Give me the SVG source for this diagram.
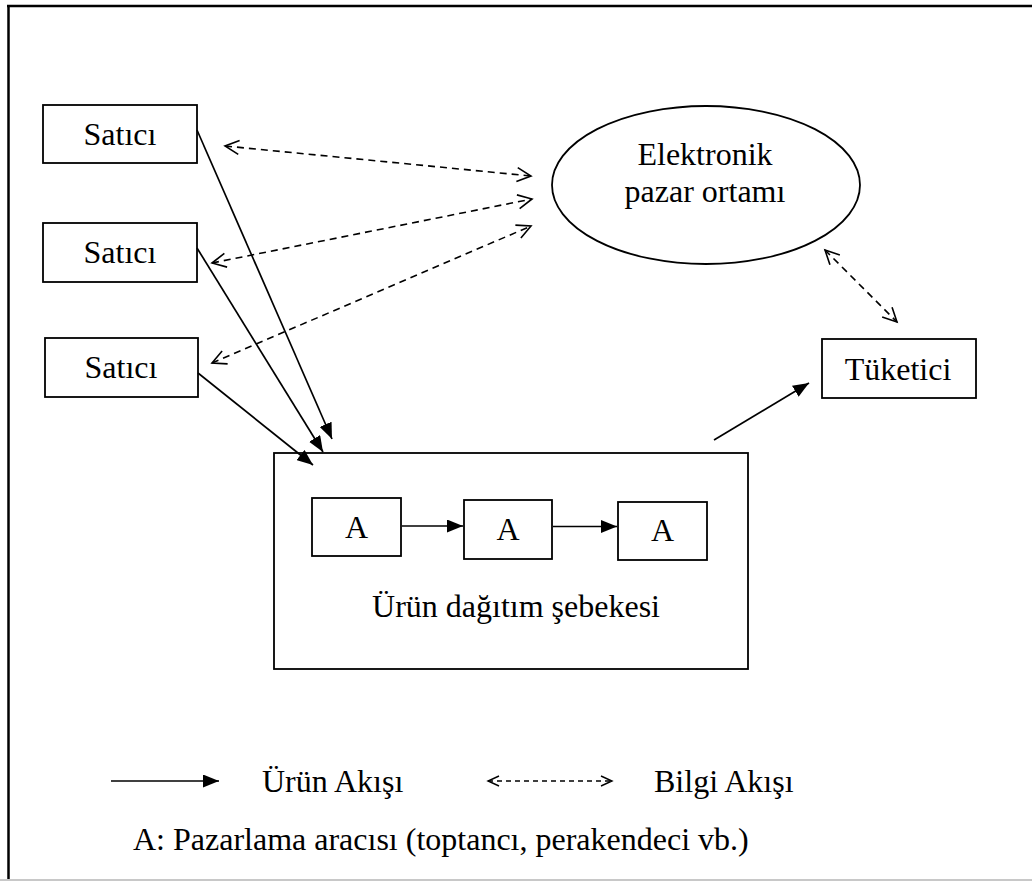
<svg xmlns="http://www.w3.org/2000/svg" width="1032" height="881" viewBox="0 0 1032 881">
  <style>
    .box { fill: #fff; stroke: #000; stroke-width: 1.8; }
    .lbl { font-family: "Liberation Serif", "Times New Roman", serif; font-size: 32px; fill: #000; }
    .mid { text-anchor: middle; }
    .flow { fill: none; stroke: #000; stroke-width: 1.7; }
    .info { fill: none; stroke: #000; stroke-width: 1.6; stroke-dasharray: 7 5; }
  </style>
  <defs>
    <marker id="solidHead" markerUnits="userSpaceOnUse" markerWidth="17" markerHeight="13" refX="16" refY="6.5" orient="auto">
      <path d="M0,0 L16,6.5 L0,13 z" fill="#000"/>
    </marker>
    <marker id="openHead" markerUnits="userSpaceOnUse" markerWidth="18" markerHeight="18" refX="15" refY="8" orient="auto-start-reverse">
      <path d="M1,1 L15,8 L1,15" fill="none" stroke="#000" stroke-width="1.6"/>
    </marker>
    <marker id="openHeadSmall" markerUnits="userSpaceOnUse" markerWidth="14" markerHeight="14" refX="12" refY="6" orient="auto-start-reverse">
      <path d="M1,1 L12,6 L1,11" fill="none" stroke="#000" stroke-width="1.4"/>
    </marker>
  </defs>

  <!-- page frame -->
  <g id="frame">
    <rect x="0" y="0" width="1032" height="881" fill="#fff"/>
    <line x1="7" y1="6" x2="1032" y2="6" stroke="#000" stroke-width="2.5"/>
    <line x1="8.5" y1="5" x2="8.5" y2="881" stroke="#000" stroke-width="2.5"/>
    <line x1="0" y1="880" x2="1032" y2="880" stroke="#c8c8c8" stroke-width="2"/>
  </g>

  <g id="satici-1">
    <rect class="box" x="43" y="105" width="154" height="58"/>
    <text class="lbl mid" x="120" y="145">Satıcı</text>
  </g>
  <g id="satici-2">
    <rect class="box" x="43" y="223" width="154" height="59"/>
    <text class="lbl mid" x="120" y="263">Satıcı</text>
  </g>
  <g id="satici-3">
    <rect class="box" x="45" y="338" width="153" height="59"/>
    <text class="lbl mid" x="121" y="378">Satıcı</text>
  </g>

  <g id="elektronik-pazar">
    <ellipse class="box" cx="706" cy="185" rx="154" ry="79"/>
    <text class="lbl mid" x="705" y="165">Elektronik</text>
    <text class="lbl mid" x="705" y="202">pazar ortamı</text>
  </g>

  <g id="tuketici">
    <rect class="box" x="822" y="339" width="154" height="59"/>
    <text class="lbl mid" x="898" y="380">Tüketici</text>
  </g>

  <g id="dagitim-sebekesi">
    <rect class="box" x="274" y="453" width="474" height="216"/>
    <text class="lbl mid" x="516" y="617">Ürün dağıtım şebekesi</text>
  </g>
  <g id="araci-1">
    <rect class="box" x="312" y="498" width="89" height="58"/>
    <text class="lbl mid" x="356.5" y="538">A</text>
  </g>
  <g id="araci-2">
    <rect class="box" x="464" y="500" width="88" height="59"/>
    <text class="lbl mid" x="508" y="540">A</text>
  </g>
  <g id="araci-3">
    <rect class="box" x="618" y="502" width="89" height="58"/>
    <text class="lbl mid" x="662.5" y="541">A</text>
  </g>

  <!-- connectors, drawn over the boxes so heads inside the network box stay visible -->
  <g id="connectors">
    <!-- product flow -->
    <line class="flow" x1="197" y1="130" x2="332" y2="439" marker-end="url(#solidHead)"/>
    <line class="flow" x1="197" y1="248" x2="323" y2="452" marker-end="url(#solidHead)"/>
    <line class="flow" x1="198" y1="373" x2="313" y2="465" marker-end="url(#solidHead)"/>
    <line class="flow" x1="402" y1="526" x2="463" y2="526" marker-end="url(#solidHead)"/>
    <line class="flow" x1="553" y1="526.5" x2="617" y2="526.5" marker-end="url(#solidHead)"/>
    <line class="flow" x1="714" y1="440" x2="809" y2="383" marker-end="url(#solidHead)"/>
    <!-- information flow -->
    <line class="info" x1="225" y1="146" x2="531" y2="176" marker-start="url(#openHead)" marker-end="url(#openHead)"/>
    <line class="info" x1="212" y1="263" x2="532" y2="199" marker-start="url(#openHead)" marker-end="url(#openHead)"/>
    <line class="info" x1="212" y1="363" x2="531" y2="226" marker-start="url(#openHead)" marker-end="url(#openHead)"/>
    <line class="info" x1="825" y1="250" x2="897" y2="322" marker-start="url(#openHead)" marker-end="url(#openHead)"/>
  </g>

  <!-- legend -->
  <g id="legend">
    <line class="flow" x1="111" y1="781" x2="219" y2="781" marker-end="url(#solidHead)"/>
    <text class="lbl" x="262" y="792">Ürün Akışı</text>
    <line x1="488" y1="781" x2="612" y2="781" stroke="#000" stroke-width="1.3" stroke-dasharray="5 4" marker-start="url(#openHeadSmall)" marker-end="url(#openHeadSmall)"/>
    <text class="lbl" x="654" y="792">Bilgi Akışı</text>
    <text class="lbl" x="133" y="850">A: Pazarlama aracısı (toptancı, perakendeci vb.)</text>
  </g>
</svg>
